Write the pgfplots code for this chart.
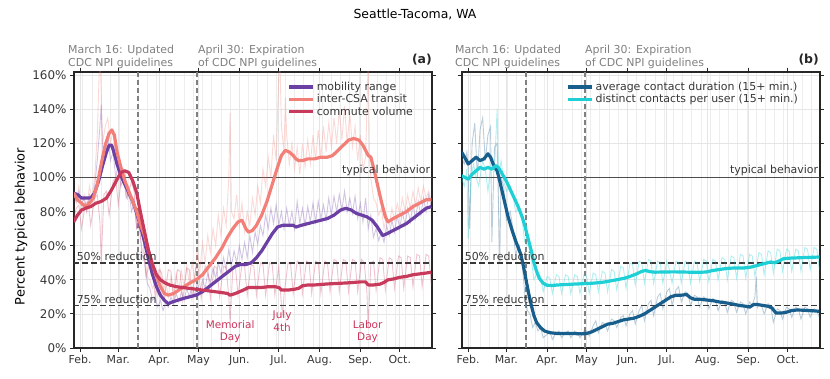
\documentclass[border=0pt]{standalone}
\usepackage{fontspec}
\setmainfont{DejaVu Sans}
\usepackage{pgfplots}
\pgfplotsset{compat=1.18}
\definecolor{cPurple}{RGB}{107,63,163}
\definecolor{cSalmon}{RGB}{242,128,120}
\definecolor{cCrimson}{RGB}{200,58,92}
\definecolor{cDark}{RGB}{24,94,140}
\definecolor{cCyan}{RGB}{30,208,214}
\definecolor{cHol}{RGB}{205,50,90}
\definecolor{cAnn}{RGB}{128,128,128}
\definecolor{cTxt}{RGB}{55,55,55}
\pgfplotsset{
  panel/.style={
    anchor=south west, width=358bp, height=276bp, scale only axis,
    xmin=27.3, xmax=299.5, ymin=0, ymax=162,
    xtick={32,61,92,122,153,183,214,245,275},
    xticklabels={Feb.,Mar.,Apr.,May,Jun.,Jul.,Aug.,Sep.,Oct.},
    minor xtick={34,41,...,299},
    ytick={0,20,40,60,80,100,120,140,160},
    grid=both,
    major grid style={draw=black!10, line width=0.8pt},
    minor grid style={draw=black!7, line width=0.8pt},
    axis line style={draw=black!85, line width=1.1pt},
    tick style={draw=black!85, line width=0.9pt},
    tick align=outside, major tick length=4bp, minor tick length=0pt,
    xticklabel style={font=\fontsize{11}{13}\selectfont, text=cTxt},
    yticklabel style={font=\fontsize{12}{14}\selectfont, text=cTxt},
    legend cell align=left,
    legend image code/.code={\draw[##1, line width=3.3pt] (0bp,0bp) -- (24bp,0bp);},
    raw/.style={line width=0.9pt, opacity=0.3, forget plot},
    smooth/.style={line width=3.2pt, line join=round},
  }
}
\begin{document}
\begin{tikzpicture}[x=1bp,y=1bp]
\useasboundingbox (0,0) rectangle (830,378);
\node[font=\fontsize{12.5}{15}\selectfont, text=black] at (415,364) {Seattle-Tacoma, WA};
\node[rotate=90, font=\fontsize{13}{15}\selectfont, text=black] at (21,151.5) {Percent typical behavior};
% ---------------- panel (a)
\begin{axis}[panel, at={(74bp,30bp)},
  yticklabels={0\%,20\%,40\%,60\%,80\%,100\%,120\%,140\%,160\%},
  legend style={at={(rel axis cs:0.593,0.975)}, anchor=north west, draw=none, fill=none,
    font=\fontsize{11}{13}\selectfont, text=cTxt, row sep=-1.5pt, inner sep=1pt}]
% reference lines
\addplot[forget plot, draw=black!70, line width=1.1pt] coordinates {(20,100) (310,100)};
\addplot[forget plot, draw=black!78, line width=1.8pt, dash pattern=on 6pt off 3pt] coordinates {(20,50) (310,50)};
\addplot[forget plot, draw=black!78, line width=1.8pt, dash pattern=on 6pt off 3pt] coordinates {(20,25) (310,25)};
\addplot[forget plot, draw=cAnn, line width=1.7pt, dash pattern=on 5pt off 3pt] coordinates {(76,0) (76,170)};
\addplot[forget plot, draw=cAnn, line width=1.7pt, dash pattern=on 5pt off 3pt] coordinates {(121,0) (121,170)};
% raw series
\addplot[raw, cPurple] coordinates {(27,90)(29,86)(31,92)(33,84)(35,88)(37,80)(39,90)(41,86)(43,95)(45,110)(47,130)(48,143)(49,118)(51,112)(53,125)(55,110)(57,115)(59,100)(61,108)(63,95)(65,100)(67,88)(69,92)(71,80)(73,85)(75,70)(77,72)(79,55)(81,50)(83,38)(85,35)(87,28)(89,30)(91,24)(93,28)(95,22)(97,27)(99,24)(101,30)(103,26)(105,32)(107,27)(109,33)(111,28)(113,35)(115,30)(117,36)(119,31)(121,38)(123,33)(125,40)(127,35)(129,44)(131,38)(133,47)(135,41)(137,50)(139,44)(141,53)(143,46)(145,58)(147,48)(149,57)(151,50)(153,60)(155,52)(157,62)(159,53)(161,66)(163,56)(165,68)(167,61)(169,72)(171,66)(173,78)(175,70)(177,82)(179,73)(181,84)(183,72)(185,80)(187,70)(189,82)(191,72)(193,80)(195,70)(197,86)(199,73)(201,82)(203,72)(205,83)(207,74)(209,85)(211,74)(213,86)(215,76)(217,84)(219,75)(221,88)(223,78)(225,89)(227,80)(229,90)(231,81)(233,92)(235,80)(237,88)(239,79)(241,89)(243,76)(245,85)(247,74)(249,88)(251,70)(253,78)(255,65)(257,70)(259,63)(261,68)(263,62)(265,72)(267,66)(269,75)(271,68)(273,78)(275,70)(277,80)(279,72)(281,82)(283,74)(285,84)(287,76)(289,86)(291,78)(293,88)(295,80)(297,90)(299,82)};
\addplot[raw, cSalmon] coordinates {(27,92)(29,85)(31,95)(33,82)(35,90)(37,80)(39,95)(41,88)(43,100)(45,125)(47,175)(48,150)(49,120)(51,130)(53,135)(55,120)(57,128)(59,110)(61,115)(63,100)(65,105)(67,90)(69,95)(71,85)(73,88)(75,75)(77,70)(79,58)(81,55)(83,42)(85,40)(87,35)(89,38)(91,30)(93,45)(95,32)(97,40)(99,30)(101,42)(103,32)(105,44)(107,34)(109,45)(111,36)(113,48)(115,38)(117,50)(119,40)(121,58)(123,45)(125,62)(127,50)(129,66)(131,56)(133,70)(135,60)(137,78)(139,66)(141,82)(143,72)(145,100)(146,138)(147,80)(149,76)(151,90)(153,72)(155,85)(157,68)(159,80)(161,72)(163,88)(165,78)(167,95)(169,85)(171,105)(173,95)(175,112)(177,100)(179,125)(181,110)(183,160)(184,165)(185,130)(187,115)(188,147)(189,125)(191,108)(193,120)(195,105)(197,118)(199,102)(201,120)(203,106)(205,122)(207,108)(209,125)(211,110)(213,128)(215,112)(217,130)(219,115)(221,132)(223,118)(225,135)(227,120)(229,140)(231,122)(233,142)(235,120)(237,138)(239,118)(241,130)(243,110)(245,125)(247,105)(249,112)(250,140)(251,170)(252,110)(253,100)(255,88)(257,85)(259,78)(261,82)(263,70)(265,78)(267,72)(269,82)(271,75)(273,85)(275,78)(277,88)(279,80)(281,90)(283,82)(285,92)(287,84)(289,94)(291,86)(293,95)(295,88)(297,92)(299,86)};
\addplot[raw, cCrimson] coordinates {(27,75)(29,82)(31,84)(33,70)(36,85)(38,86)(40,72)(43,88)(45,90)(47,74)(48,50)(50,90)(52,92)(54,78)(57,98)(59,100)(61,84)(64,105)(66,104)(68,88)(71,98)(73,92)(75,70)(78,72)(80,62)(82,42)(85,50)(87,46)(89,30)(92,46)(94,44)(96,29)(99,46)(101,45)(103,28)(106,46)(108,45)(110,28)(113,47)(115,46)(117,29)(120,47)(122,46)(124,29)(127,48)(129,47)(131,29)(134,48)(136,47)(138,30)(141,48)(143,47)(145,30)(146,15)(148,46)(150,48)(152,31)(155,49)(157,48)(159,31)(162,49)(164,48)(166,31)(169,50)(171,49)(173,31)(176,50)(178,49)(180,31)(183,48)(185,25)(186,20)(187,31)(190,50)(192,49)(194,32)(197,51)(199,50)(201,32)(204,51)(206,50)(208,32)(211,51)(213,50)(215,32)(218,51)(220,50)(222,33)(225,52)(227,51)(229,33)(232,52)(234,51)(236,33)(239,52)(241,51)(243,33)(246,52)(248,50)(250,33)(251,12)(253,50)(255,51)(257,34)(260,53)(262,52)(264,34)(267,53)(269,52)(271,35)(274,54)(276,53)(278,35)(281,54)(283,53)(285,36)(288,55)(290,54)(292,36)(295,55)(297,54)(299,37)};
% smoothed series
\addplot[smooth, cPurple] coordinates {(27,91)(30,90)(33,88)(36,88)(40,88)(43,91)(46,98)(49,107)(52,115)(54,119)(56,119)(58,114)(60,108)(63,101)(66,96)(69,91)(72,86)(75,79)(78,71)(81,62)(84,52)(87,43)(90,36)(93,31)(96,28)(99,26)(102,27)(106,28)(110,29)(115,30)(120,31)(125,33)(130,36)(135,39)(140,42)(145,45)(150,48)(154,49)(158,49)(162,50)(166,53)(170,57)(174,62)(178,67)(182,71)(186,72)(190,72)(194,72)(196,71)(200,72)(205,73)(210,74)(215,75)(220,76)(225,78)(230,81)(234,82)(238,81)(242,79)(246,78)(250,77)(254,75)(258,71)(262,66)(265,67)(270,69)(275,71)(280,73)(285,76)(290,79)(295,82)(299,83)};
\addlegendentry{mobility range}
\addplot[smooth, cSalmon] coordinates {(27,91)(30,87)(33,85)(36,83)(39,85)(42,88)(45,96)(48,108)(51,119)(54,126)(56,128)(58,125)(60,115)(63,106)(66,98)(69,92)(72,86)(75,80)(78,72)(81,66)(84,57)(87,49)(90,42)(93,36)(96,32)(99,31)(103,32)(107,34)(111,36)(115,38)(120,40)(125,43)(130,48)(135,53)(140,59)(144,65)(148,70)(152,74)(155,75)(158,70)(160,68)(163,69)(166,72)(170,78)(174,86)(178,96)(182,106)(185,113)(188,116)(191,115)(194,113)(196,111)(198,110)(201,110)(205,111)(210,111)(215,112)(220,112)(224,113)(228,116)(232,119)(236,122)(240,123)(244,122)(247,119)(249,116)(251,113)(253,112)(255,106)(258,96)(261,86)(264,77)(266,74)(270,76)(275,78)(280,80)(285,83)(290,85)(295,87)(299,87)};
\addlegendentry{inter-CSA transit}
\addplot[smooth, cCrimson] coordinates {(27,74)(30,78)(33,81)(36,82)(40,83)(44,85)(48,86)(52,88)(56,93)(60,99)(63,103)(66,104)(69,103)(72,98)(75,91)(78,79)(81,68)(84,57)(87,49)(90,43)(93,40)(97,38)(100,37)(105,36)(110,35.5)(115,35)(120,34.5)(125,34)(130,33.5)(135,33)(140,32.5)(144,32)(146,31)(150,32)(153,33)(156,34)(160,35.5)(165,35.5)(170,35.5)(175,36)(180,36)(183,35.5)(185,34)(190,34)(195,34.5)(198,35)(201,36.5)(205,37)(210,37)(215,37.3)(220,37.6)(225,37.8)(230,38)(235,38.2)(240,38.5)(245,38.8)(249,38.8)(251,37)(255,37)(260,37.5)(263,38.5)(266,40)(270,40.5)(275,41.5)(280,42)(285,43)(290,43.5)(295,44)(299,44.5)};
\addlegendentry{commute volume}
% in-axis labels
\node[anchor=south east, inner sep=1pt, font=\fontsize{11}{13}\selectfont, text=cTxt] at (axis cs:299,100.5) {typical behavior};
\node[anchor=south west, inner sep=1pt, font=\fontsize{11}{13}\selectfont, text=cTxt] at (axis cs:28.5,50.5) {50\% reduction};
\node[anchor=south west, inner sep=1pt, font=\fontsize{11}{13}\selectfont, text=cTxt] at (axis cs:28.5,25.5) {75\% reduction};
\node[anchor=north, align=center, inner sep=0pt, font=\fontsize{10.5}{12.5}\selectfont, text=cHol] at (axis cs:146,16.5) {Memorial\\Day};
\node[anchor=north, align=center, inner sep=0pt, font=\fontsize{10.5}{12.5}\selectfont, text=cHol] at (axis cs:185.5,22) {July\\4th};
\node[anchor=north, align=center, inner sep=0pt, font=\fontsize{10.5}{12.5}\selectfont, text=cHol] at (axis cs:250.5,16.5) {Labor\\Day};
\end{axis}
% ---------------- panel (b)
\begin{axis}[panel, at={(462bp,30bp)},
  yticklabels={},
  legend style={at={(rel axis cs:0.288,0.975)}, anchor=north west, draw=none, fill=none,
    font=\fontsize{11}{13}\selectfont, text=cTxt, row sep=-1.5pt, inner sep=1pt}]
\addplot[forget plot, draw=black!70, line width=1.1pt] coordinates {(20,100) (310,100)};
\addplot[forget plot, draw=black!78, line width=1.8pt, dash pattern=on 6pt off 3pt] coordinates {(20,50) (310,50)};
\addplot[forget plot, draw=black!78, line width=1.8pt, dash pattern=on 6pt off 3pt] coordinates {(20,25) (310,25)};
\addplot[forget plot, draw=cAnn, line width=1.7pt, dash pattern=on 5pt off 3pt] coordinates {(76,0) (76,170)};
\addplot[forget plot, draw=cAnn, line width=1.7pt, dash pattern=on 5pt off 3pt] coordinates {(121,0) (121,170)};
\addplot[raw, cDark, opacity=0.3] coordinates {(27,112)(29,108)(31,115)(32,105)(33,70)(35,120)(37,132)(39,100)(41,128)(43,135)(45,110)(47,125)(49,130)(50,62)(52,118)(54,120)(56,50)(57,100)(59,95)(61,75)(64,80)(66,70)(68,55)(71,60)(73,50)(75,32)(77,22)(79,20)(81,12)(83,15)(85,10)(87,12)(89,6)(92,8)(94,10)(96,5)(99,9)(101,10)(103,6)(106,9)(108,10)(110,6)(113,10)(115,9)(117,6)(120,10)(122,10)(124,7)(127,13)(129,16)(131,9)(134,15)(136,14)(138,10)(141,17)(143,16)(145,12)(148,18)(150,19)(152,13)(155,20)(157,22)(159,14)(162,22)(164,25)(166,16)(169,26)(171,28)(173,19)(176,30)(178,32)(180,23)(183,33)(185,35)(187,25)(190,34)(192,36)(194,27)(197,33)(199,32)(201,25)(204,31)(206,30)(208,24)(211,30)(213,29)(215,23)(218,29)(220,28)(222,22)(225,28)(227,27)(229,21)(232,28)(234,27)(236,21)(239,27)(241,26)(243,20)(246,27)(248,25)(250,30)(251,42)(252,24)(253,26)(255,25)(257,20)(260,26)(262,25)(264,15)(267,23)(269,22)(271,17)(274,24)(276,23)(278,18)(281,24)(283,23)(285,17)(288,24)(290,23)(292,18)(295,23)(297,22)(299,18)};
\addplot[raw, cCyan, opacity=0.35] coordinates {(27,100)(29,95)(31,105)(32,64)(34,98)(36,108)(38,100)(40,95)(43,110)(45,105)(47,92)(50,112)(52,105)(54,140)(55,100)(57,110)(59,98)(61,92)(64,95)(66,90)(68,80)(71,82)(73,75)(75,62)(78,60)(80,52)(82,40)(85,45)(87,42)(89,33)(92,42)(94,41)(96,32)(99,43)(101,42)(103,32)(106,43)(108,42)(110,32)(113,43)(115,42)(117,32)(120,43)(122,42)(124,32)(127,44)(129,43)(131,33)(134,45)(136,44)(138,33)(141,46)(143,45)(145,34)(148,48)(150,47)(152,35)(155,50)(157,49)(159,37)(162,51)(164,50)(166,38)(169,52)(171,51)(173,38)(176,51)(178,50)(180,38)(183,51)(185,46)(187,38)(190,51)(192,50)(194,38)(197,51)(199,50)(201,38)(204,51)(206,50)(208,39)(211,52)(213,51)(215,39)(218,52)(220,51)(222,40)(225,53)(227,52)(229,40)(232,54)(234,53)(236,41)(239,55)(241,54)(243,41)(246,55)(248,54)(250,42)(253,56)(255,55)(257,43)(260,57)(262,56)(264,44)(267,58)(269,57)(271,45)(274,58)(276,57)(278,45)(281,58)(283,57)(285,45)(288,59)(290,58)(292,46)(295,59)(297,58)(299,46)};
\addplot[smooth, cDark] coordinates {(27,115)(30,111)(32,108)(35,110)(38,112)(41,110)(44,111)(47,114)(49,112)(51,108)(54,104)(56,98)(59,88)(62,78)(65,70)(68,63)(70,59)(72,55)(74,48)(76,40)(78,32)(80,25)(82,19)(84,15)(87,12)(90,10)(94,9)(100,8.5)(106,8.5)(112,8.5)(118,8.3)(122,8.5)(126,9.5)(130,11)(134,12.5)(138,14)(142,14.5)(146,15.5)(150,16.5)(154,17)(158,17.5)(162,18.6)(166,20)(170,22)(174,24)(178,26)(182,28)(186,30)(190,31)(194,31)(198,31.4)(201,29.5)(204,28.6)(208,28.6)(213,28.2)(218,27.8)(223,27)(228,26.5)(233,25.8)(238,25)(243,24.5)(246,24)(249,25.5)(252,25.5)(256,25)(260,24.5)(263,23.5)(266,20.5)(270,20.5)(274,21)(278,22)(282,22.3)(286,22.2)(290,22)(295,21.8)(299,21.5)};
\addlegendentry{average contact duration (15+ min.)}
\addplot[smooth, cCyan] coordinates {(27,101)(30,100)(32,99)(35,102)(38,104)(41,106)(44,105)(47,106)(50,105)(53,107)(55,106)(58,102)(61,98)(64,93)(67,88)(70,83)(73,77)(75,72)(78,63)(80,57)(82,50)(84,45)(86,41)(89,38)(92,36.8)(96,36.7)(100,37)(105,37.2)(110,37.4)(115,37.6)(121,37.8)(126,38)(131,38.3)(136,38.8)(141,39.5)(146,40.2)(151,41)(155,42)(160,43.5)(164,45)(167,45.5)(170,44.8)(174,44.5)(180,44.6)(188,44.7)(195,44.6)(200,44.5)(206,44.4)(213,44.6)(218,45.5)(224,46.2)(230,46.8)(236,47)(242,47)(247,47.5)(252,48.5)(257,49.5)(262,50.5)(265,50)(268,51)(272,52.5)(278,52.8)(285,53)(292,53.2)(299,53.4)};
\addlegendentry{distinct contacts per user (15+ min.)}
\node[anchor=south east, inner sep=1pt, font=\fontsize{11}{13}\selectfont, text=cTxt] at (axis cs:299,100.5) {typical behavior};
\node[anchor=south west, inner sep=1pt, font=\fontsize{11}{13}\selectfont, text=cTxt] at (axis cs:28.5,50.5) {50\% reduction};
\node[anchor=south west, inner sep=1pt, font=\fontsize{11}{13}\selectfont, text=cTxt] at (axis cs:28.5,25.5) {75\% reduction};
\end{axis}
% annotations above axes
\node[anchor=south west, align=left, inner sep=0pt, font=\fontsize{11}{13}\selectfont, text=cAnn] at (68,309) {March 16: Updated\\CDC NPI guidelines};
\node[anchor=south west, align=left, inner sep=0pt, font=\fontsize{11}{13}\selectfont, text=cAnn] at (198,309) {April 30: Expiration\\of CDC NPI guidelines};
\node[anchor=south west, align=left, inner sep=0pt, font=\fontsize{11}{13}\selectfont, text=cAnn] at (455,309) {March 16: Updated\\CDC NPI guidelines};
\node[anchor=south west, align=left, inner sep=0pt, font=\fontsize{11}{13}\selectfont, text=cAnn] at (585,309) {April 30: Expiration\\of CDC NPI guidelines};
\node[anchor=base east, inner sep=0pt, font=\bfseries\fontsize{12.5}{15}\selectfont, text=black!85] at (432,315) {(a)};
\node[anchor=base east, inner sep=0pt, font=\bfseries\fontsize{12.5}{15}\selectfont, text=black!85] at (819,315) {(b)};
\end{tikzpicture}
\end{document}
